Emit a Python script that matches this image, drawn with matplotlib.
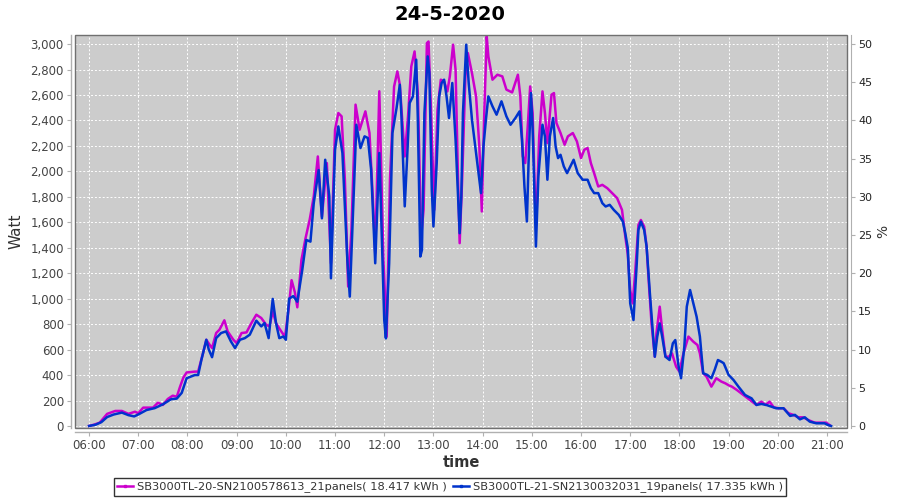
import matplotlib
matplotlib.use("Agg")
import matplotlib.pyplot as plt
import matplotlib.dates as mdates
from matplotlib.lines import Line2D
from matplotlib.patches import Rectangle
import pandas as pd

title = "24-5-2020"
name_a = "SB3000TL-20-SN2100578613_21panels( 18.417 kWh )"
name_b = "SB3000TL-21-SN2130032031_19panels( 17.335 kWh )"

times_a = ["06:00","06:06","06:13","06:22","06:32","06:40","06:48","06:56","07:00","07:06","07:18","07:24",
           "07:30","07:36","07:42","07:47","07:51","07:55","07:59","08:09","08:13","08:19","08:23","08:27",
           "08:30","08:35","08:39","08:45","08:49","08:56","09:00","09:06","09:12","09:18","09:24","09:30",
           "09:36","09:40","09:44","09:48","09:53","09:59","10:03","10:07","10:11","10:14","10:19","10:24",
           "10:29","10:34","10:39","10:44","10:50","10:55","11:00","11:04","11:08","11:12","11:16","11:20",
           "11:25","11:30","11:37","11:42","11:46","11:49","11:54","11:59","12:03","12:07","12:12","12:16",
           "12:19","12:25","12:29","12:33","12:37","12:41","12:45","12:48","12:52","12:54","12:57","13:01",
           "13:05","13:09","13:13","13:17","13:20","13:24","13:27","13:30","13:32","13:35","13:39","13:42",
           "13:47","13:52","13:56","13:59","14:02","14:05","14:07","14:12","14:18","14:24","14:29","14:36",
           "14:43","14:46","14:49","14:52","14:55","14:58","15:01","15:04","15:06","15:09","15:13","15:16",
           "15:19","15:24","15:27","15:30","15:35","15:40","15:44","15:50","15:55","16:00","16:04","16:08",
           "16:12","16:16","16:21","16:26","16:32","16:38","16:44","16:50","16:54","16:57","17:00","17:03",
           "17:06","17:10","17:13","17:17","17:20","17:23","17:26","17:30","17:32","17:36","17:39","17:43",
           "17:47","17:51","17:56","18:00","18:05","18:11","18:17","18:22","18:25","18:29","18:33","18:39",
           "18:45","18:51","18:56","19:00","19:04","19:10","19:18","19:26","19:34","19:40","19:45","19:50",
           "19:55","20:01","20:07","20:13","20:19","20:25","20:31","20:37","20:45","20:53","20:59","21:03"]
watt_a = [0,10,26,95,118,118,95,112,100,144,144,183,
          165,212,238,230,309,380,420,427,427,572,677,638,
          612,730,756,830,743,677,651,730,735,808,874,848,
          795,782,900,808,756,700,900,1145,1050,932,1304,1474,
          1618,1801,2117,1644,2065,1278,2327,2458,2432,1934,1095,1540,
          2524,2327,2471,2301,1803,1358,2629,1304,701,1934,2666,2785,
          2680,2117,2432,2824,2942,2615,1480,1700,3007,3020,2485,1697,
          2485,2720,2707,2628,2746,2995,2798,1934,1436,1934,2746,2929,
          2772,2589,2196,1685,2458,3060,2903,2720,2759,2746,2642,2620,
          2759,2589,2117,2065,2353,2667,2458,1750,1697,2275,2628,2458,
          2222,2602,2615,2380,2301,2209,2275,2301,2235,2104,2170,2183,
          2065,1986,1881,1894,1868,1829,1790,1697,1488,1350,1068,963,
          1199,1579,1618,1566,1409,1094,806,544,728,937,754,544,
          544,570,466,427,571,702,662,636,570,414,388,309,
          375,349,335,320,309,283,244,204,165,191,165,191,
          147,139,139,100,87,68,68,47,26,26,26,8]

times_b = ["06:00","06:08","06:15","06:22","06:30","06:40","06:48","06:55","07:00","07:10","07:20","07:30",
           "07:40","07:47","07:53","07:59","08:09","08:13","08:17","08:23","08:26","08:30","08:35","08:41",
           "08:47","08:53","08:58","09:04","09:10","09:16","09:24","09:30","09:34","09:39","09:44","09:48",
           "09:52","09:57","10:00","10:04","10:09","10:14","10:20","10:25","10:30","10:34","10:40","10:44",
           "10:48","10:53","10:55","11:00","11:04","11:09","11:15","11:18","11:21","11:26","11:31","11:36",
           "11:40","11:44","11:49","11:54","12:00","12:02","12:06","12:10","12:15","12:19","12:21","12:25",
           "12:28","12:31","12:35","12:39","12:41","12:44","12:46","12:49","12:53","12:55","12:58","13:00",
           "13:04","13:07","13:10","13:13","13:16","13:19","13:23","13:27","13:30","13:32","13:34","13:36",
           "13:40","13:43","13:47","13:52","13:58","14:01","14:04","14:07","14:12","14:17","14:23","14:29",
           "14:34","14:40","14:45","14:48","14:51","14:54","14:56","14:59","15:01","15:04","15:05","15:08",
           "15:13","15:16","15:19","15:22","15:26","15:29","15:32","15:35","15:39","15:43","15:48","15:51",
           "15:56","16:02","16:08","16:12","16:16","16:21","16:26","16:30","16:35","16:40","16:46","16:51",
           "16:54","16:57","17:00","17:04","17:08","17:10","17:13","17:17","17:20","17:24","17:28","17:30",
           "17:33","17:36","17:39","17:43","17:48","17:52","17:55","17:59","18:02","18:06","18:09","18:13",
           "18:17","18:21","18:25","18:29","18:34","18:39","18:43","18:47","18:51","18:54","19:00","19:06",
           "19:12","19:20","19:24","19:28","19:34","19:40","19:46","19:52","19:58","20:07","20:15","20:21",
           "20:27","20:33","20:39","20:47","20:57","21:01","21:05"]
watt_b = [0,10,30,70,90,105,85,75,90,125,140,170,
          210,215,260,375,400,400,519,677,600,540,690,730,
          743,664,612,677,690,717,827,782,808,690,998,808,
          690,703,677,1000,1020,976,1225,1461,1448,1749,2010,1631,
          2091,1803,1160,2170,2353,2144,1304,1016,1514,2366,2183,2275,
          2262,2013,1278,2144,832,688,1278,2301,2497,2680,2432,1725,
          2118,2537,2589,2877,2406,1331,1383,2458,2903,2772,1855,1567,
          2065,2589,2694,2720,2589,2419,2694,2249,1803,1514,1803,2458,
          2995,2694,2406,2144,1829,2196,2406,2589,2511,2445,2550,2432,
          2366,2419,2471,2249,1881,1606,2065,2615,2327,1645,1409,1960,
          2366,2275,1934,2275,2419,2196,2104,2130,2039,1986,2052,2091,
          1986,1934,1934,1868,1829,1829,1750,1724,1737,1697,1658,1606,
          1514,1400,963,832,1278,1540,1605,1540,1409,1042,702,544,
          702,806,702,544,518,649,675,466,375,623,937,1068,
          963,858,702,414,401,375,440,518,505,493,401,361,
          309,244,230,217,165,173,165,152,139,139,79,87,
          52,68,34,21,21,8,0]

hour_ticks = ["06:00","07:00","08:00","09:00","10:00","11:00","12:00","13:00",
              "14:00","15:00","16:00","17:00","18:00","19:00","20:00","21:00"]
watt_ticks = list(range(0, 3001, 200))
pct_ticks = list(range(0, 51, 5))

day = "2020-05-24 "
ta = pd.to_datetime([day + t for t in times_a])
tb = pd.to_datetime([day + t for t in times_b])
tick_dt = pd.to_datetime([day + t for t in hour_ticks])

col_a = "#CC00CC"
col_b = "#0033CC"
grey_bg = "#CCCCCC"
tick_col = "#444444"

fig = plt.figure(figsize=(9, 5), dpi=100)
ax = fig.add_axes([75/900, 1-428/500, (847-75)/900, (428-35)/500])
ax.set_facecolor(grey_bg)

ax.plot(ta, watt_a, color=col_a, lw=1.8, solid_joinstyle="round", zorder=3)
ax.plot(tb, watt_b, color=col_b, lw=1.8, solid_joinstyle="round", zorder=4)

ymin, ymax = -16, 3071
ax.set_ylim(ymin, ymax)
ax.set_xlim(pd.Timestamp(day + "05:42:50"), pd.Timestamp(day + "21:24:25"))
ax.set_xticks(tick_dt)
ax.xaxis.set_major_formatter(mdates.DateFormatter("%H:%M"))
ax.set_yticks(watt_ticks)
ax.set_yticklabels([f"{v:,}" for v in watt_ticks])

ax.grid(True, color="white", linestyle=(0, (2, 2)), linewidth=0.7)
ax.set_axisbelow(True)

ax.spines["top"].set_visible(False)
for s in ["left", "bottom", "right"]:
    ax.spines[s].set_position(("outward", 3))
    ax.spines[s].set_color("#B0B0B0")
    ax.spines[s].set_linewidth(1.0)
ax.spines["right"].set_visible(False)
ax.add_patch(Rectangle((0, 0), 1, 1, transform=ax.transAxes, fill=False,
                       edgecolor="#707070", linewidth=1.0, zorder=5, clip_on=False))

ax.tick_params(axis="both", colors="#B0B0B0", labelcolor=tick_col, labelsize=8.5,
               length=3, width=0.8, pad=2)

ax2 = ax.twinx()
ax2.set_ylim(ymin / 60, ymax / 60)
ax2.set_yticks(pct_ticks)
for s in ["top", "left", "bottom"]:
    ax2.spines[s].set_visible(False)
ax2.spines["right"].set_position(("outward", 3))
ax2.spines["right"].set_color("#B0B0B0")
ax2.tick_params(axis="y", colors="#B0B0B0", labelcolor="#222222", labelsize=8,
                length=3, width=0.8, pad=2)
ax2.set_ylabel("%", fontsize=10, color="#333333", labelpad=3)

ax.set_ylabel("Watt", fontsize=11, color="#333333", labelpad=5)
ax.set_xlabel("time", fontsize=10.5, color="#333333", fontweight="bold", labelpad=2)
fig.text(0.5, 0.972, title, ha="center", va="center", fontsize=14, fontweight="bold")

handles = [Line2D([0], [0], color=col_a, lw=1.8, marker="s", markersize=2),
           Line2D([0], [0], color=col_b, lw=1.8, marker="s", markersize=2)]
leg = fig.legend(handles, [name_a, name_b], loc="center", bbox_to_anchor=(0.5, 0.026),
                 ncol=2, fontsize=8.2, frameon=True, fancybox=False, edgecolor="black",
                 handlelength=1.4, handletextpad=0.3, columnspacing=0.6,
                 borderpad=0.3, borderaxespad=0)
leg.get_frame().set_linewidth(1.0)
for t in leg.get_texts():
    t.set_color("#333333")

fig.savefig("out.png", dpi=100)
